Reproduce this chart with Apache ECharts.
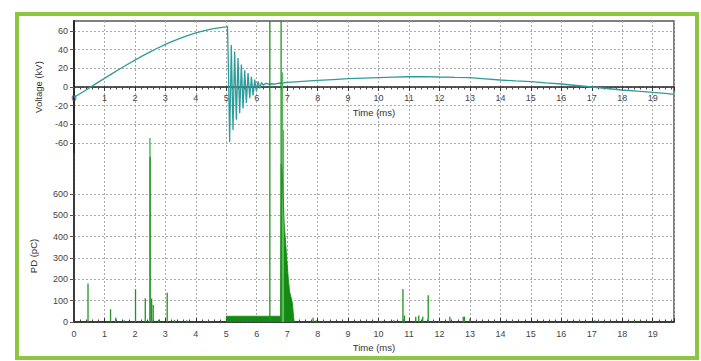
<!DOCTYPE html>
<html><head><meta charset="utf-8">
<script src="https://cdn.jsdelivr.net/npm/echarts@6/dist/echarts.min.js"></script>
<style>html,body{margin:0;padding:0;background:#fff}#c{width:701px;height:361px}</style>
</head><body><div id="c"></div>
<script>
// ---- data ----
const timeMin = 0;
const timeMax = 19.7;
const voltageTicks = [-60, -40, -20, 0, 20, 40, 60];
const pdTicks = [0, 100, 200, 300, 400, 500, 600];

// Voltage (kV) vs time (ms)
const voltage = [
  [0,-11],[0.25,-6.2],[0.5,-1],[0.75,4.1],[1.0,9.2],[1.25,14.3],[1.5,19.3],[1.75,24.1],
  [2.0,28.8],[2.25,33.4],[2.5,37.7],[2.75,41.8],[3.0,45.6],[3.25,49.2],[3.5,52.4],[3.75,55.3],
  [4.0,57.9],[4.25,60.1],[4.5,62],[4.75,63.4],[5.0,64.5],[5.04,65],
  [5.07,20],[5.11,-59],[5.165,45],[5.22,-46],[5.275,38],[5.33,-35],[5.385,31],[5.44,-28],
  [5.495,24],[5.55,-23],[5.605,18],[5.66,-17],[5.715,15],[5.77,-12],[5.825,11],[5.88,-9],
  [5.935,8],[5.99,-5],[6.045,6],[6.10,-1.5],[6.155,5],[6.21,2],[6.3,4],[6.4,3],[6.5,3.5],
  [6.6,3],[6.7,4],[6.8,4],[7.0,5],[7.5,6],[8.0,7],[8.5,8],[9.0,9],[9.5,9.5],[10.0,10],
  [10.5,10.5],[11.0,11],[11.5,11.2],[12.0,10.7],[12.5,10.3],[13.0,10],[13.5,8.8],[14.0,7.5],
  [14.5,6.5],[15.0,5.7],[15.5,4.4],[16.0,3.2],[16.5,1.6],[17.0,0],[17.5,-1.6],[18.0,-3.2],
  [18.5,-4.5],[19.0,-5.7],[19.5,-7.2],[19.7,-7.8]
];

// PD (pC) isolated pulses
const pdSpikes = [
  [0.46,180],[1.2,60],[1.37,20],[1.65,8],[2.02,153],[2.34,111],[2.50,775],[2.55,110],
  [2.60,80],[2.78,10],[3.06,137],[3.3,10],[3.7,8],[4.4,5],[6.43,1500],[6.80,1500],
  [7.85,20],[7.95,8],[8.2,5],[9.3,3],[10.0,5],[10.1,5],[10.3,5],[10.5,8],[10.8,155],
  [10.85,30],[11.22,25],[11.32,30],[11.45,25],[11.63,125],[11.8,5],[12.0,5],[12.34,25],
  [12.78,25],[12.82,25],[13.0,15],[13.25,5],[13.8,5],[14.4,5],[16.6,8],[17.1,8],
  [17.25,5],[18.4,8],[19.0,5]
];
// lighter pulses
const pdSpikesLight = [[2.49,862],[6.84,1170],[6.87,900]];
// dense pulse band after the voltage collapse
const pdBand = [
  [5.0,0],[5.0,27],[6.78,27],[6.80,740],[6.82,728],[6.86,619],[6.90,464],[6.95,370],
  [6.99,290],[7.04,197],[7.08,142],[7.12,119],[7.17,89],[7.21,25],[7.23,0]
];

const FONT = 'Liberation Sans';
const gridLine = {show:true, lineStyle:{color:'#aaa', type:[2,2], width:1}};
const lblStyle = {color:'#444', fontSize:9, fontFamily:FONT};
const nameStyle = {color:'#333', fontSize:9.5, fontFamily:FONT};

const chart = echarts.init(document.getElementById('c'), null, {renderer:'svg'});
chart.setOption({
  animation:false,
  backgroundColor:'#fff',
  grid:[
    {left:74, right:27, top:21, height:132, show:false},
    {left:74, right:27, top:21, bottom:39, show:true, borderColor:'#555', borderWidth:1.5, backgroundColor:'transparent'},
    {left:74, right:27, top:21, height:66, show:false}
  ],
  xAxis:[
    {gridIndex:0, type:'value', min:timeMin, max:timeMax, interval:1, show:false},
    {gridIndex:1, type:'value', min:timeMin, max:timeMax, interval:1, position:'bottom',
     axisLine:{show:true, lineStyle:{color:'#222', width:1.5}},
     axisTick:{show:true, inside:true, length:4, lineStyle:{color:'#333'}},
     minorTick:{show:true, splitNumber:5, length:2.5, lineStyle:{color:'#444'}},
     axisLabel:Object.assign({margin:7, showMaxLabel:false}, lblStyle),
     splitLine:gridLine,
     name:'Time (ms)', nameLocation:'middle', nameGap:20, nameTextStyle:nameStyle},
    {gridIndex:2, type:'value', min:timeMin, max:timeMax, interval:1, position:'bottom',
     axisLine:{show:true, onZero:false, lineStyle:{color:'#222', width:1.5}},
     axisTick:{show:true, length:4, lineStyle:{color:'#333'}},
     minorTick:{show:true, splitNumber:5, length:2.5, lineStyle:{color:'#444'}},
     axisLabel:Object.assign({margin:6, showMaxLabel:false}, lblStyle),
     splitLine:{show:false},
     name:'Time (ms)', nameLocation:'middle', nameGap:20, nameTextStyle:nameStyle}
  ],
  yAxis:[
    {gridIndex:0, type:'value', min:-70.7, max:70.7,
     axisLine:{show:true, lineStyle:{color:'#222', width:1.5}},
     axisTick:{show:true, length:4, customValues:voltageTicks, lineStyle:{color:'#555'}},
     axisLabel:Object.assign({margin:6, customValues:voltageTicks}, lblStyle),
     splitLine:gridLine,
     name:'Voltage (kV)', nameLocation:'middle', nameRotate:90, nameGap:31, nameTextStyle:nameStyle},
    {gridIndex:1, type:'value', min:0, max:1411,
     axisLine:{show:true, lineStyle:{color:'#222', width:1.5}},
     axisTick:{show:true, length:4, customValues:pdTicks, lineStyle:{color:'#555'}},
     axisLabel:Object.assign({margin:6, customValues:pdTicks}, lblStyle),
     splitLine:gridLine},
    {gridIndex:2, type:'value', min:0, max:1, show:false}
  ],
  graphic:[
    {type:'text', x:33, y:256, rotation:Math.PI/2,
     style:{text:'PD (pC)', fill:'#333', fontSize:9.5, fontFamily:FONT, align:'center', verticalAlign:'middle'}},
    {type:'rect', shape:{x:17, y:14, width:680, height:344}, z:100,
     style:{fill:'none', stroke:'#8dc63f', lineWidth:4}}
  ],
  series:[
    {type:'line', xAxisIndex:0, yAxisIndex:0, data:voltage, showSymbol:false, symbol:'none',
     lineStyle:{color:'#2f9c9c', width:1.3}, z:3},
    {type:'line', xAxisIndex:1, yAxisIndex:1, data:pdBand, showSymbol:false, symbol:'none',
     lineStyle:{color:'#138a13', width:0.8}, areaStyle:{color:'#138a13', opacity:1}, z:4},
    {type:'bar', xAxisIndex:1, yAxisIndex:1, data:pdSpikesLight, barWidth:1.5, barGap:'-100%',
     itemStyle:{color:'#5cb85c'}, z:4},
    {type:'bar', xAxisIndex:1, yAxisIndex:1, data:pdSpikes, barWidth:1.3, barGap:'-100%',
     itemStyle:{color:'#1f951f'}, z:5}
  ]
});
</script></body></html>
